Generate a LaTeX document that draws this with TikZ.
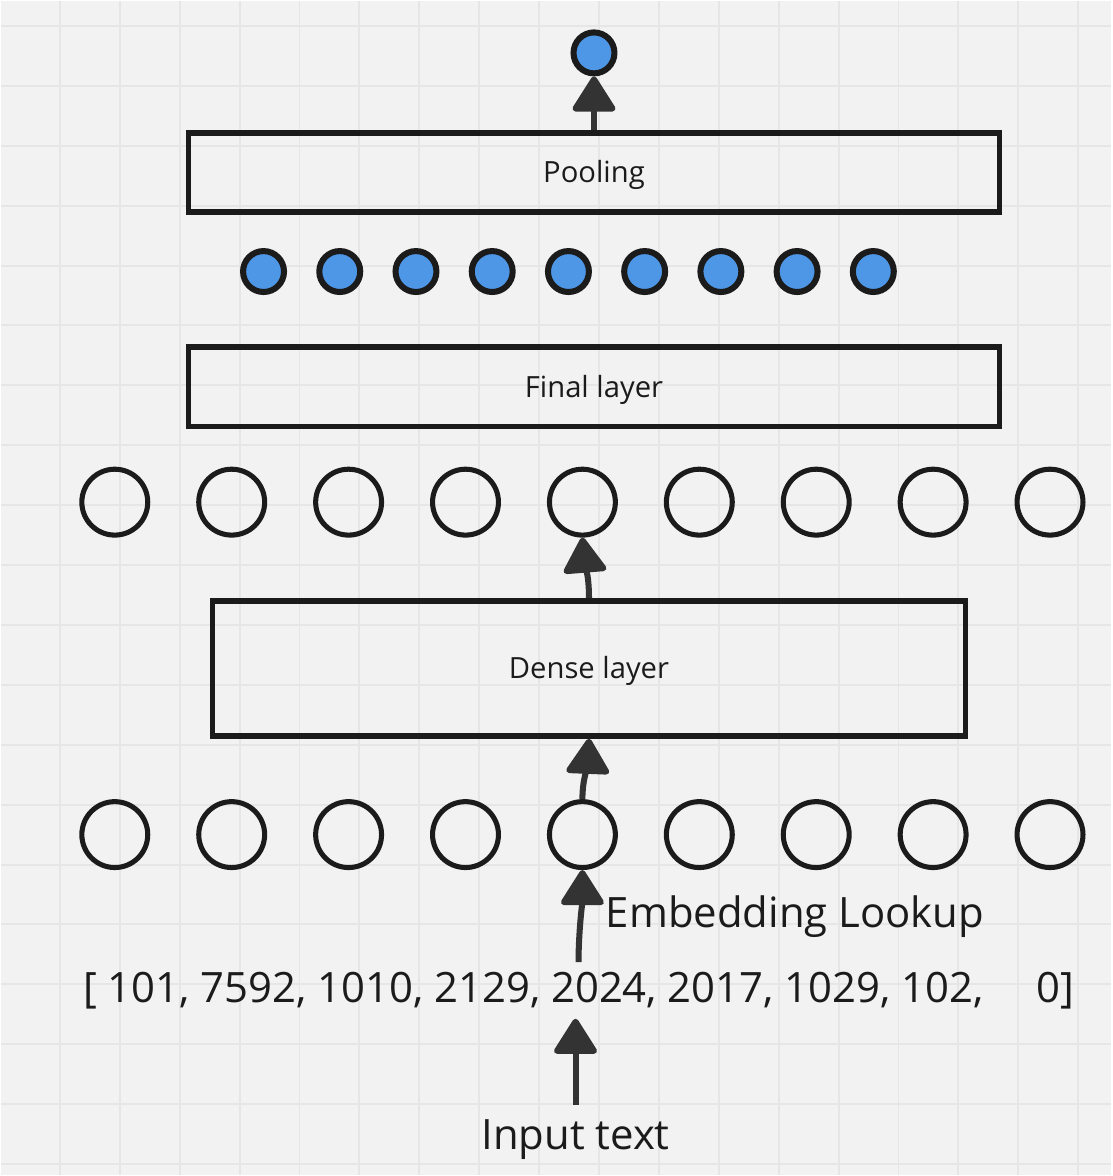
\documentclass[tikz,border=0pt]{standalone}
\usepackage{fontspec}
\setmainfont{Open Sans}
\usetikzlibrary{arrows.meta}
\definecolor{bgcol}{RGB}{242,242,242}
\definecolor{gridcol}{RGB}{230,230,230}
\definecolor{inkcol}{RGB}{27,27,27}
\definecolor{arrowcol}{RGB}{51,51,51}
\definecolor{dotblue}{RGB}{78,150,230}

\begin{document}
\begin{tikzpicture}[x=0.025cm, y=-0.025cm,
    layer/.style={draw=inkcol, line width=4.1pt, minimum width=20.3cm, minimum height=1.98cm,
        inner sep=0pt, text=inkcol, text height=14.9pt, text depth=0pt, font=\fontsize{20.8}{24}\selectfont},
    dot/.style={circle, draw=inkcol, fill=dotblue, line width=4.3pt, minimum size=1.025cm, inner sep=0pt},
    unit/.style={circle, draw=inkcol, line width=3.6pt, minimum size=1.65cm, inner sep=0pt},
    flow/.style={-{Triangle[width=33pt,length=27pt,round]}, arrowcol, line width=4.3pt},
    big/.style={font=\fontsize{29.8}{34}\selectfont, text=inkcol, inner sep=0pt, outer sep=7pt}]

    % Canvas and grid
    \fill[bgcol] (0,0) rectangle (1112,1176);
    \foreach \gx in {59,119,...,1079} \draw[gridcol, line width=1.4pt] (\gx,0) -- (\gx,1176);
    \foreach \gy in {25,85,...,1165} \draw[gridcol, line width=1.4pt] (0,\gy) -- (1112,\gy);
    \useasboundingbox (0,0) rectangle (1112,1176);

    % Pooled output
    \node[dot] (out) at (594,52) {};
    \node[layer] (pool) at (594,171.5) {Pooling};

    % Final hidden states
    \foreach \i in {1,...,9} \node[dot] (h\i) at ({263+76.35*(\i-1)},271) {};
    \node[layer] (final) at (594,386.5) {Final layer};

    % Dense outputs
    \foreach \i in {1,...,9} \node[unit] (f\i) at ({114+117.1*(\i-1)},502) {};
    \node[layer, minimum width=18.85cm, minimum height=3.38cm] (dense) at (589,668.5) {Dense layer};

    % Embeddings
    \foreach \i in {1,...,9} \node[unit] (e\i) at ({114+117.1*(\i-1)},835) {};
    \node[big, anchor=base west, outer sep=0pt] (lookup) at (606,928) {Embedding Lookup};

    % Token ids and input
    \node[big, anchor=base] (tokens) at (578.5,1003) {[ 101, 7592, 1010, 2129, 2024, 2017, 1029, 102,\hspace{1em} 0]};
    \node[big, anchor=base, outer sep=10pt] (input) at (575.5,1150) {Input text};

    % Flow
    \draw[flow] (input.north) -- (input.north |- tokens.south);
    \draw[flow] (tokens.north) .. controls +(0,-30) and +(0,30) .. (e5.south);
    \draw[flow] (e5.north) .. controls +(0,-20) and +(-1,25) .. (dense.south);
    \draw[flow] (dense.north) .. controls +(0,-25) and +(2,25) .. (f5.south);
    \draw[flow] (pool.north) -- (out.south);
\end{tikzpicture}
\end{document}
